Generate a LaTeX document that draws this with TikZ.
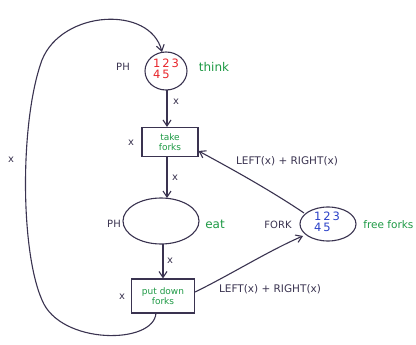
\documentclass[tikz,border=0pt]{standalone}
\usepackage{fontspec}
\setmainfont{DejaVu Sans}
\usetikzlibrary{arrows.meta}
\definecolor{ink}{HTML}{3A3350}
\definecolor{grn}{HTML}{1E9A45}
\definecolor{tokred}{HTML}{E8242A}
\definecolor{tokblue}{HTML}{2A40C8}
\begin{document}
\begin{tikzpicture}[x=1pt,y=-1pt,
  line width=1.1pt,
  every node/.style={font=\fontsize{9}{10}\selectfont, text=ink},
  trans/.style={draw=ink, rectangle, inner sep=0pt, align=center, text=grn, font=\fontsize{9}{10}\selectfont},
  arc/.style={draw=ink, -{Straight Barb[length=6pt,width=8pt]}},
  lab/.style={text=ink, font=\fontsize{10}{11}\selectfont},
  llab/.style={text=ink, font=\fontsize{10.5}{11}\selectfont},
  glab/.style={text=grn, font=\fontsize{12}{13}\selectfont},
  tok/.style={align=center, font=\fontsize{11.5}{11}\selectfont, inner sep=0pt}
]
\useasboundingbox (0,0) rectangle (416,345);
\fill[white] (0,0) rectangle (416,345);
% places
\draw[ink] (166,71) ellipse [x radius=21, y radius=19];
\node[tok, text=tokred] (think) at (166,69) {1\,2\,3\\4\,5\phantom{\,3}};
\coordinate (thinkT) at (162,52);
\coordinate (thinkB) at (167,90);
\node[lab] (ph1) at (123,67) {PH};
\node[glab] (thinkL) at (214,67) {think};

\draw[ink] (161,221) ellipse [x radius=38, y radius=23];
\coordinate (eatT) at (166,198);
\coordinate (eatB) at (163,244);
\node[lab] (ph2) at (114,224) {PH};
\node[glab] (eatL) at (215,224) {eat};

\draw[ink] (328,224) ellipse [x radius=28, y radius=17];
\node[tok, text=tokblue] (fork) at (327,222) {1\,2\,3\\4\,5\phantom{\,3}};
\coordinate (forkUL) at (304,213);
\coordinate (forkLL) at (303,236);
\node[lab] (forkL) at (278,225) {FORK};
\node[glab, font=\fontsize{10.5}{11}\selectfont, anchor=east, inner sep=1pt] (freeL) at (415,225) {free forks};

% transitions
\node[trans, minimum width=56pt, minimum height=29pt] (take) at (170,142) {take\\forks};
\node[trans, minimum width=63pt, minimum height=34pt] (put) at (163,296) {put down\\forks};

% arcs
\draw[arc] (thinkB) -- (take.north -| thinkB);
\node[lab] (x1) at (176,102) {x};
\node[lab] (x2) at (131,143) {x};
\draw[arc] (take.south -| thinkB) -- (eatT -| thinkB);
\node[lab] (x3) at (175,178) {x};
\draw[arc] (eatB) -- (put.north -| eatB);
\node[lab] (x4) at (170,261) {x};
\node[lab] (x5) at (122,297) {x};

\draw[arc] (forkUL) .. controls (270,190) and (230,168) .. (take.east |- 0,151);
\node[llab] (lr1) at (287,161) {LEFT(x) + RIGHT(x)};
\draw[arc] (put.east |- 0,292) .. controls (230,275) and (270,250) .. (forkLL);
\node[llab] (lr2) at (270,289) {LEFT(x) + RIGHT(x)};

\coordinate (loopS) at (156,313);
\draw[arc] (loopS) .. controls (154,345) and (60,345) .. (42,300)
  .. controls (20,250) and (20,120) .. (42,60)
  .. controls (62,10) and (150,5) .. (thinkT);
\node[lab] (x6) at (11,160) {x};
\end{tikzpicture}
\end{document}
